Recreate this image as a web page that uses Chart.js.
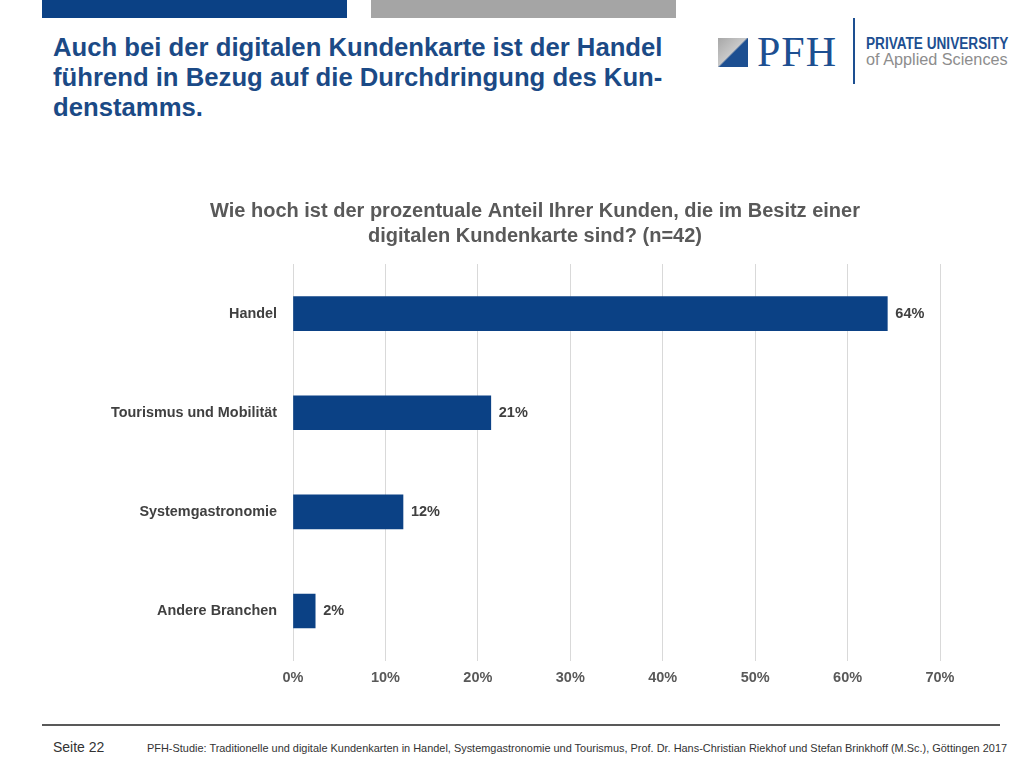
<!DOCTYPE html>
<html>
<head>
<meta charset="utf-8">
<script src="https://cdn.jsdelivr.net/npm/chart.js@4/dist/chart.umd.min.js"></script>
<style>
  body { margin: 0; width: 1030px; height: 770px; background: #fff; position: relative; overflow: hidden; font-family: "Liberation Sans", Arial, sans-serif; }
  .bar-blue { position: absolute; left: 42px; top: 0; width: 305px; height: 18px; background: #0b4185; }
  .bar-gray { position: absolute; left: 371px; top: 0; width: 305px; height: 18px; background: #a5a5a5; }
  .heading { position: absolute; left: 53px; top: 32px; color: #1b4a86; font-weight: bold; font-size: 25.7px; line-height: 30px; white-space: nowrap; }
  .logo-icon { position: absolute; left: 718px; top: 38px; width: 30px; height: 29px; background: linear-gradient(135deg, #a7a7a7 0%, #c9c9c9 48%, #1d4f91 52%, #1d4f91 100%); }
  .logo-pfh { position: absolute; left: 757px; top: 28px; font-family: "Liberation Serif", serif; font-size: 42px; color: #1d4f91; letter-spacing: 1px; }
  .logo-line { position: absolute; left: 853px; top: 18px; width: 2px; height: 66px; background: #1d4f91; }
  .logo-t1 { position: absolute; left: 866px; top: 35px; font-weight: bold; font-size: 16px; color: #1d4f91; white-space: nowrap; transform-origin: left top; }
  .logo-t2 { position: absolute; left: 866px; top: 51px; font-size: 16px; color: #8d8d8d; white-space: nowrap; transform-origin: left top; }
  #wrap { position: absolute; left: 40px; top: 190px; width: 990px; height: 510px; }
  .foot-line { position: absolute; left: 42px; top: 724px; width: 958px; height: 2px; background: #595959; }
  .seite { position: absolute; left: 53px; top: 739px; font-size: 14px; color: #333; }
  .quelle { position: absolute; left: 147px; top: 742px; font-size: 10.5px; color: #333; white-space: nowrap; transform-origin: left top; }
</style>
</head>
<body>
<div class="bar-blue"></div>
<div class="bar-gray"></div>
<div class="heading">Auch bei der digitalen Kundenkarte ist der Handel<br>führend in Bezug auf die Durchdringung des Kun-<br>denstamms.</div>
<div class="logo-icon"></div>
<div class="logo-pfh">PFH</div>
<div class="logo-line"></div>
<div class="logo-t1" id="t1">PRIVATE UNIVERSITY</div>
<div class="logo-t2" id="t2">of Applied Sciences</div>
<div id="wrap"><canvas id="chart"></canvas></div>
<div class="foot-line"></div>
<div class="seite">Seite 22</div>
<div class="quelle" id="quelle">PFH-Studie: Traditionelle und digitale Kundenkarten in Handel, Systemgastronomie und Tourismus, Prof. Dr. Hans-Christian Riekhof und Stefan Brinkhoff (M.Sc.), Göttingen 2017</div>
<script>
// Daten (n=42)
const categories = ["Handel", "Tourismus und Mobilität", "Systemgastronomie", "Andere Branchen"];
const shares = [64.3, 21.4, 11.9, 2.4];
const valueLabels = ["64%", "21%", "12%", "2%"];
const tickValues = [0, 10, 20, 30, 40, 50, 60, 70];
const chartTitle = ["Wie hoch ist der prozentuale Anteil Ihrer Kunden, die im Besitz einer", "digitalen Kundenkarte sind? (n=42)"];

// Schmale Texte auf Breite bringen
function fitWidth(id, w) {
    const el = document.getElementById(id);
    el.style.transform = "scaleX(" + (w / el.offsetWidth) + ")";
}
fitWidth("quelle", 860);
fitWidth("t1", 142);
fitWidth("t2", 142);

const font = "'Liberation Sans', Arial, sans-serif";

// Werte rechts neben den Balken
const valuePlugin = {
    id: "valueLabels",
    afterDatasetsDraw(chart) {
        const ctx = chart.ctx;
        const meta = chart.getDatasetMeta(0);
        ctx.save();
        ctx.font = "bold 14.5px " + font;
        ctx.fillStyle = "#404040";
        ctx.textBaseline = "middle";
        meta.data.forEach((bar, i) => {
            ctx.fillText(valueLabels[i], bar.x + 8, bar.y);
        });
        ctx.restore();
    }
};

const ctx = document.getElementById("chart").getContext("2d");
new Chart(ctx, {
    type: "bar",
    data: {
        labels: categories,
        datasets: [{
            data: shares,
            backgroundColor: "#0b4185",
            borderWidth: 0,
            barThickness: 34
        }]
    },
    options: {
        indexAxis: "y",
        responsive: true,
        maintainAspectRatio: false,
        animation: false,
        layout: { padding: { left: 71, right: 71, top: 0, bottom: 4 } },
        plugins: {
            legend: { display: false },
            tooltip: { enabled: false },
            title: {
                display: true,
                text: chartTitle,
                color: "#595959",
                font: { family: font, size: 20, weight: "bold", lineHeight: 1.25 },
                padding: { top: 9, bottom: 15 }
            }
        },
        scales: {
            x: {
                min: 0,
                max: 70,
                afterBuildTicks: axis => { axis.ticks = tickValues.map(v => ({ value: v })); },
                grid: { color: "#d9d9d9", drawTicks: false },
                border: { display: false },
                ticks: {
                    padding: 9,
                    color: "#595959",
                    font: { family: font, size: 14.5, weight: "bold" },
                    callback: v => v + "%"
                }
            },
            y: {
                afterFit: axis => { axis.width = 182; },
                grid: { display: false, drawTicks: false },
                border: { display: false },
                ticks: {
                    padding: 16,
                    color: "#404040",
                    font: { family: font, size: 14.4, weight: "bold" }
                }
            },
            // leerer Rand rechts, damit der Titel mittig sitzt
            yRight: {
                type: "category",
                position: "right",
                afterFit: axis => { axis.width = 19; },
                grid: { display: false, drawTicks: false },
                border: { display: false },
                ticks: { display: false }
            }
        }
    },
    plugins: [valuePlugin]
});
</script>
</body>
</html>
